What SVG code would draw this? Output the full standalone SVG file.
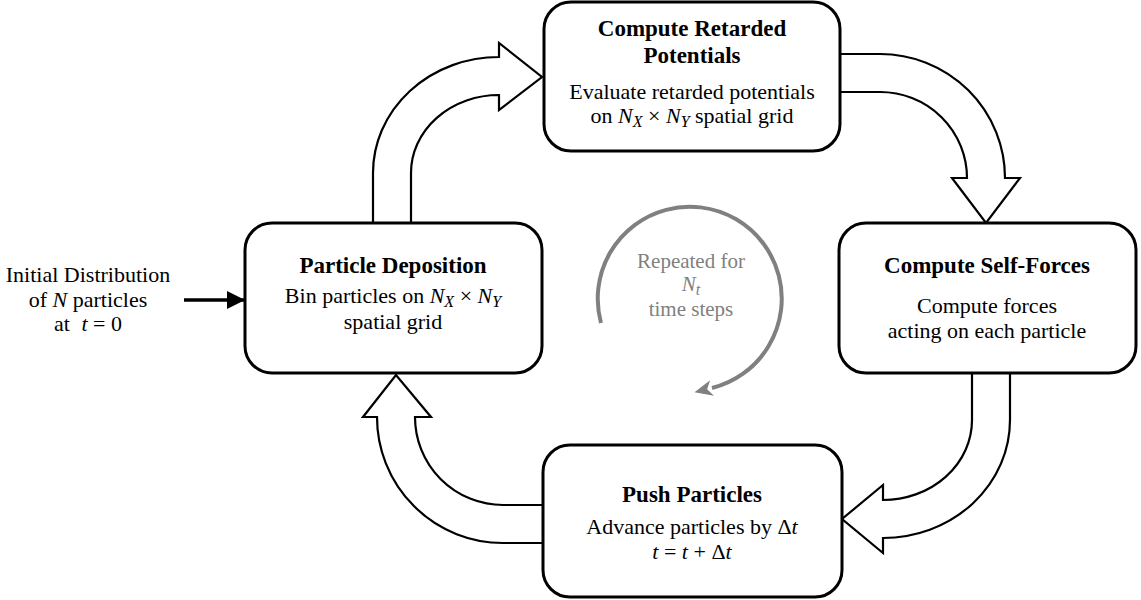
<svg xmlns="http://www.w3.org/2000/svg" width="1141" height="600" viewBox="0 0 1141 600">
  <style>
    text { font-family: "Liberation Serif", "Times New Roman", serif; fill: #000; text-anchor: middle; }
    .title { font-size: 23px; font-weight: bold; }
    .body { font-size: 22px; }
    .m { font-style: italic; }
    .sub { font-style: italic; font-size: 16px; }
    .box { fill: #fff; stroke: #000; stroke-width: 3; }
    .block { fill: #fff; stroke: #000; stroke-width: 2.2; stroke-linejoin: miter; }
    .loop { fill: none; stroke: #808080; stroke-width: 4; }
    .loopText { fill: #808080; font-size: 21px; }
  </style>
  <defs>
    <marker id="loopHead" markerUnits="userSpaceOnUse" markerWidth="24" markerHeight="20" refX="2" refY="10" orient="auto" viewBox="0 0 24 20">
      <path d="M20,10 L2,2 L7,10 L2,18 Z" fill="#808080"/>
    </marker>
    <marker id="inHead" markerUnits="userSpaceOnUse" markerWidth="20" markerHeight="20" refX="18" refY="10" orient="auto" viewBox="0 0 20 20">
      <path d="M0,1 L18,10 L0,19 Z" fill="#000"/>
    </marker>
  </defs>

  <!-- connectors: curved block arrows around the cycle, input arrow, loop indicator -->
  <g id="connectors">
    <path class="block" d="M373,223 L373,173 A126,116 0 0 1 499,57 L499,43 L542,77 L499,110 L499,95 A88,78 0 0 0 411,173 L411,223"/>
    <path class="block" d="M840,54 L880,54 A125,124 0 0 1 1005,178 L1020,178 L986,223 L952,178 L967,178 A87,86 0 0 0 880,92 L840,92"/>
    <path class="block" d="M972,373 L972,420 A89,80 0 0 1 883,500 L883,485 L842,519 L883,553 L883,538 A127,118 0 0 0 1010,420 L1010,373"/>
    <path class="block" d="M543,543 L503,543 A126,126 0 0 1 377,417 L363,417 L396,375 L431,417 L415,417 A88,88 0 0 0 503,505 L543,505"/>
    <line x1="184" y1="300" x2="245" y2="300" stroke="#000" stroke-width="3.5" marker-end="url(#inHead)"/>
    <path class="loop" d="M601,323 A92,92 0 1 1 712,388" marker-end="url(#loopHead)"/>
  </g>

  <g id="input-label">
    <text class="body" x="88" y="282">Initial Distribution</text>
    <text class="body" x="88" y="307">of <tspan class="m">N</tspan> particles</text>
    <text class="body" x="88" y="331">at <tspan class="m" dx="6">t</tspan><tspan> = 0</tspan></text>
  </g>

  <g id="loop-label">
    <text class="loopText" x="691" y="268">Repeated for</text>
    <text class="loopText" x="691" y="291"><tspan class="m">N</tspan><tspan class="sub" dy="4">t</tspan></text>
    <text class="loopText" x="691" y="316">time steps</text>
  </g>

  <g id="node-retarded-potentials">
    <rect class="box" x="544" y="2" width="296" height="149" rx="27"/>
    <text class="title" x="692" y="36">Compute Retarded</text>
    <text class="title" x="692" y="63">Potentials</text>
    <text class="body" x="692" y="99">Evaluate retarded potentials</text>
    <text class="body" x="692" y="123">on <tspan class="m">N</tspan><tspan class="sub" dy="4">X</tspan><tspan dy="-4"> × </tspan><tspan class="m">N</tspan><tspan class="sub" dy="4">Y</tspan><tspan dy="-4"> spatial grid</tspan></text>
  </g>

  <g id="node-particle-deposition">
    <rect class="box" x="245" y="223" width="297" height="150" rx="27"/>
    <text class="title" x="393" y="273">Particle Deposition</text>
    <text class="body" x="393" y="303">Bin particles on <tspan class="m">N</tspan><tspan class="sub" dy="4">X</tspan><tspan dy="-4"> × </tspan><tspan class="m">N</tspan><tspan class="sub" dy="4">Y</tspan></text>
    <text class="body" x="393" y="329">spatial grid</text>
  </g>

  <g id="node-self-forces">
    <rect class="box" x="839" y="223" width="297" height="150" rx="27"/>
    <text class="title" x="987" y="273">Compute Self-Forces</text>
    <text class="body" x="987" y="313">Compute forces</text>
    <text class="body" x="987" y="338">acting on each particle</text>
  </g>

  <g id="node-push-particles">
    <rect class="box" x="543" y="445" width="299" height="152" rx="27"/>
    <text class="title" x="692" y="502">Push Particles</text>
    <text class="body" x="692" y="534">Advance particles by Δ<tspan class="m">t</tspan></text>
    <text class="body" x="692" y="559"><tspan class="m">t</tspan><tspan> = </tspan><tspan class="m">t</tspan><tspan> + Δ</tspan><tspan class="m">t</tspan></text>
  </g>
</svg>
